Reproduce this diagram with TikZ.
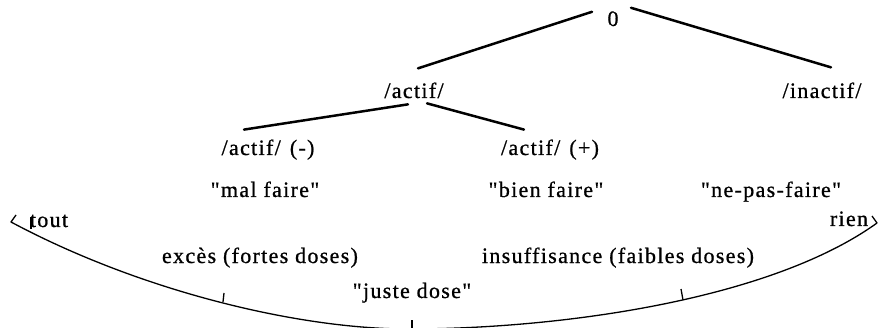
\documentclass[tikz,border=0pt]{standalone}
\usepackage{fontspec}
\newfontfamily\twfont[LetterSpace=6,FakeBold=0.8]{Liberation Serif}
\begin{document}
\begin{tikzpicture}[x=1pt,y=-1pt,
  lbl/.style={font=\twfont\fontsize{22}{26}\selectfont, inner sep=0pt, anchor=base},
  branch/.style={line width=2.5pt, line cap=round},
  scale line/.style={line width=1.3pt, line join=round},
  tickmark/.style={line width=1.3pt}]
\useasboundingbox (0,0) rectangle (882,328);
\fill[white] (0,0) rectangle (882,328);
% nodes
\node[lbl] (zero) at (613,26) {0};
\node[lbl] (actif) at (414,98) {/actif/};
\node[lbl] (inactif) at (822,98) {/inactif/};
\node[lbl] (minus) at (268,155) {/actif/\hspace{9pt}(-)};
\node[lbl] (plus) at (550,155) {/actif/\hspace{9pt}(+)};
\node[lbl] (mal) at (265,197) {"mal faire"};
\node[lbl] (bien) at (546,197) {"bien faire"};
\node[lbl] (nepas) at (771,197) {"ne-pas-faire"};
\node[lbl] (tout) at (49,227) {tout};
\node[lbl] (rien) at (849,226) {rien};
\node[lbl] (exces) at (260,263) {excès (fortes doses)};
\node[lbl] (insuf) at (618,263) {insuffisance (faibles doses)};
\node[lbl] (juste) at (412,298) {"juste dose"};
% tree connectors
\draw[branch] ([shift={(-21,-7)}]zero.center) -- ([shift={(4,-22)}]actif.center);
\draw[branch] ([shift={(18,-11)}]zero.center) -- ([shift={(9,-23)}]inactif.center);
\draw[branch] ([shift={(-6,14)}]actif.center) -- ([shift={(-24,-20)}]minus.center);
\draw[branch] ([shift={(13,13)}]actif.center) -- ([shift={(-26,-20)}]plus.center);
% the scale curve
\draw[scale line] (16,215) -- (11,222)
  .. controls (142,292) and (300,329) .. (408,329)
  .. controls (560,329) and (770,300) .. (877,223) -- (872,216);
% ticks
\draw[tickmark] (223,302) -- (224,293);
\draw[tickmark] (683,300) -- (681,289);
\draw[tickmark] (412,329) -- (412,320);
\draw[tickmark] (31,229) -- (31,217);
\end{tikzpicture}
\end{document}
